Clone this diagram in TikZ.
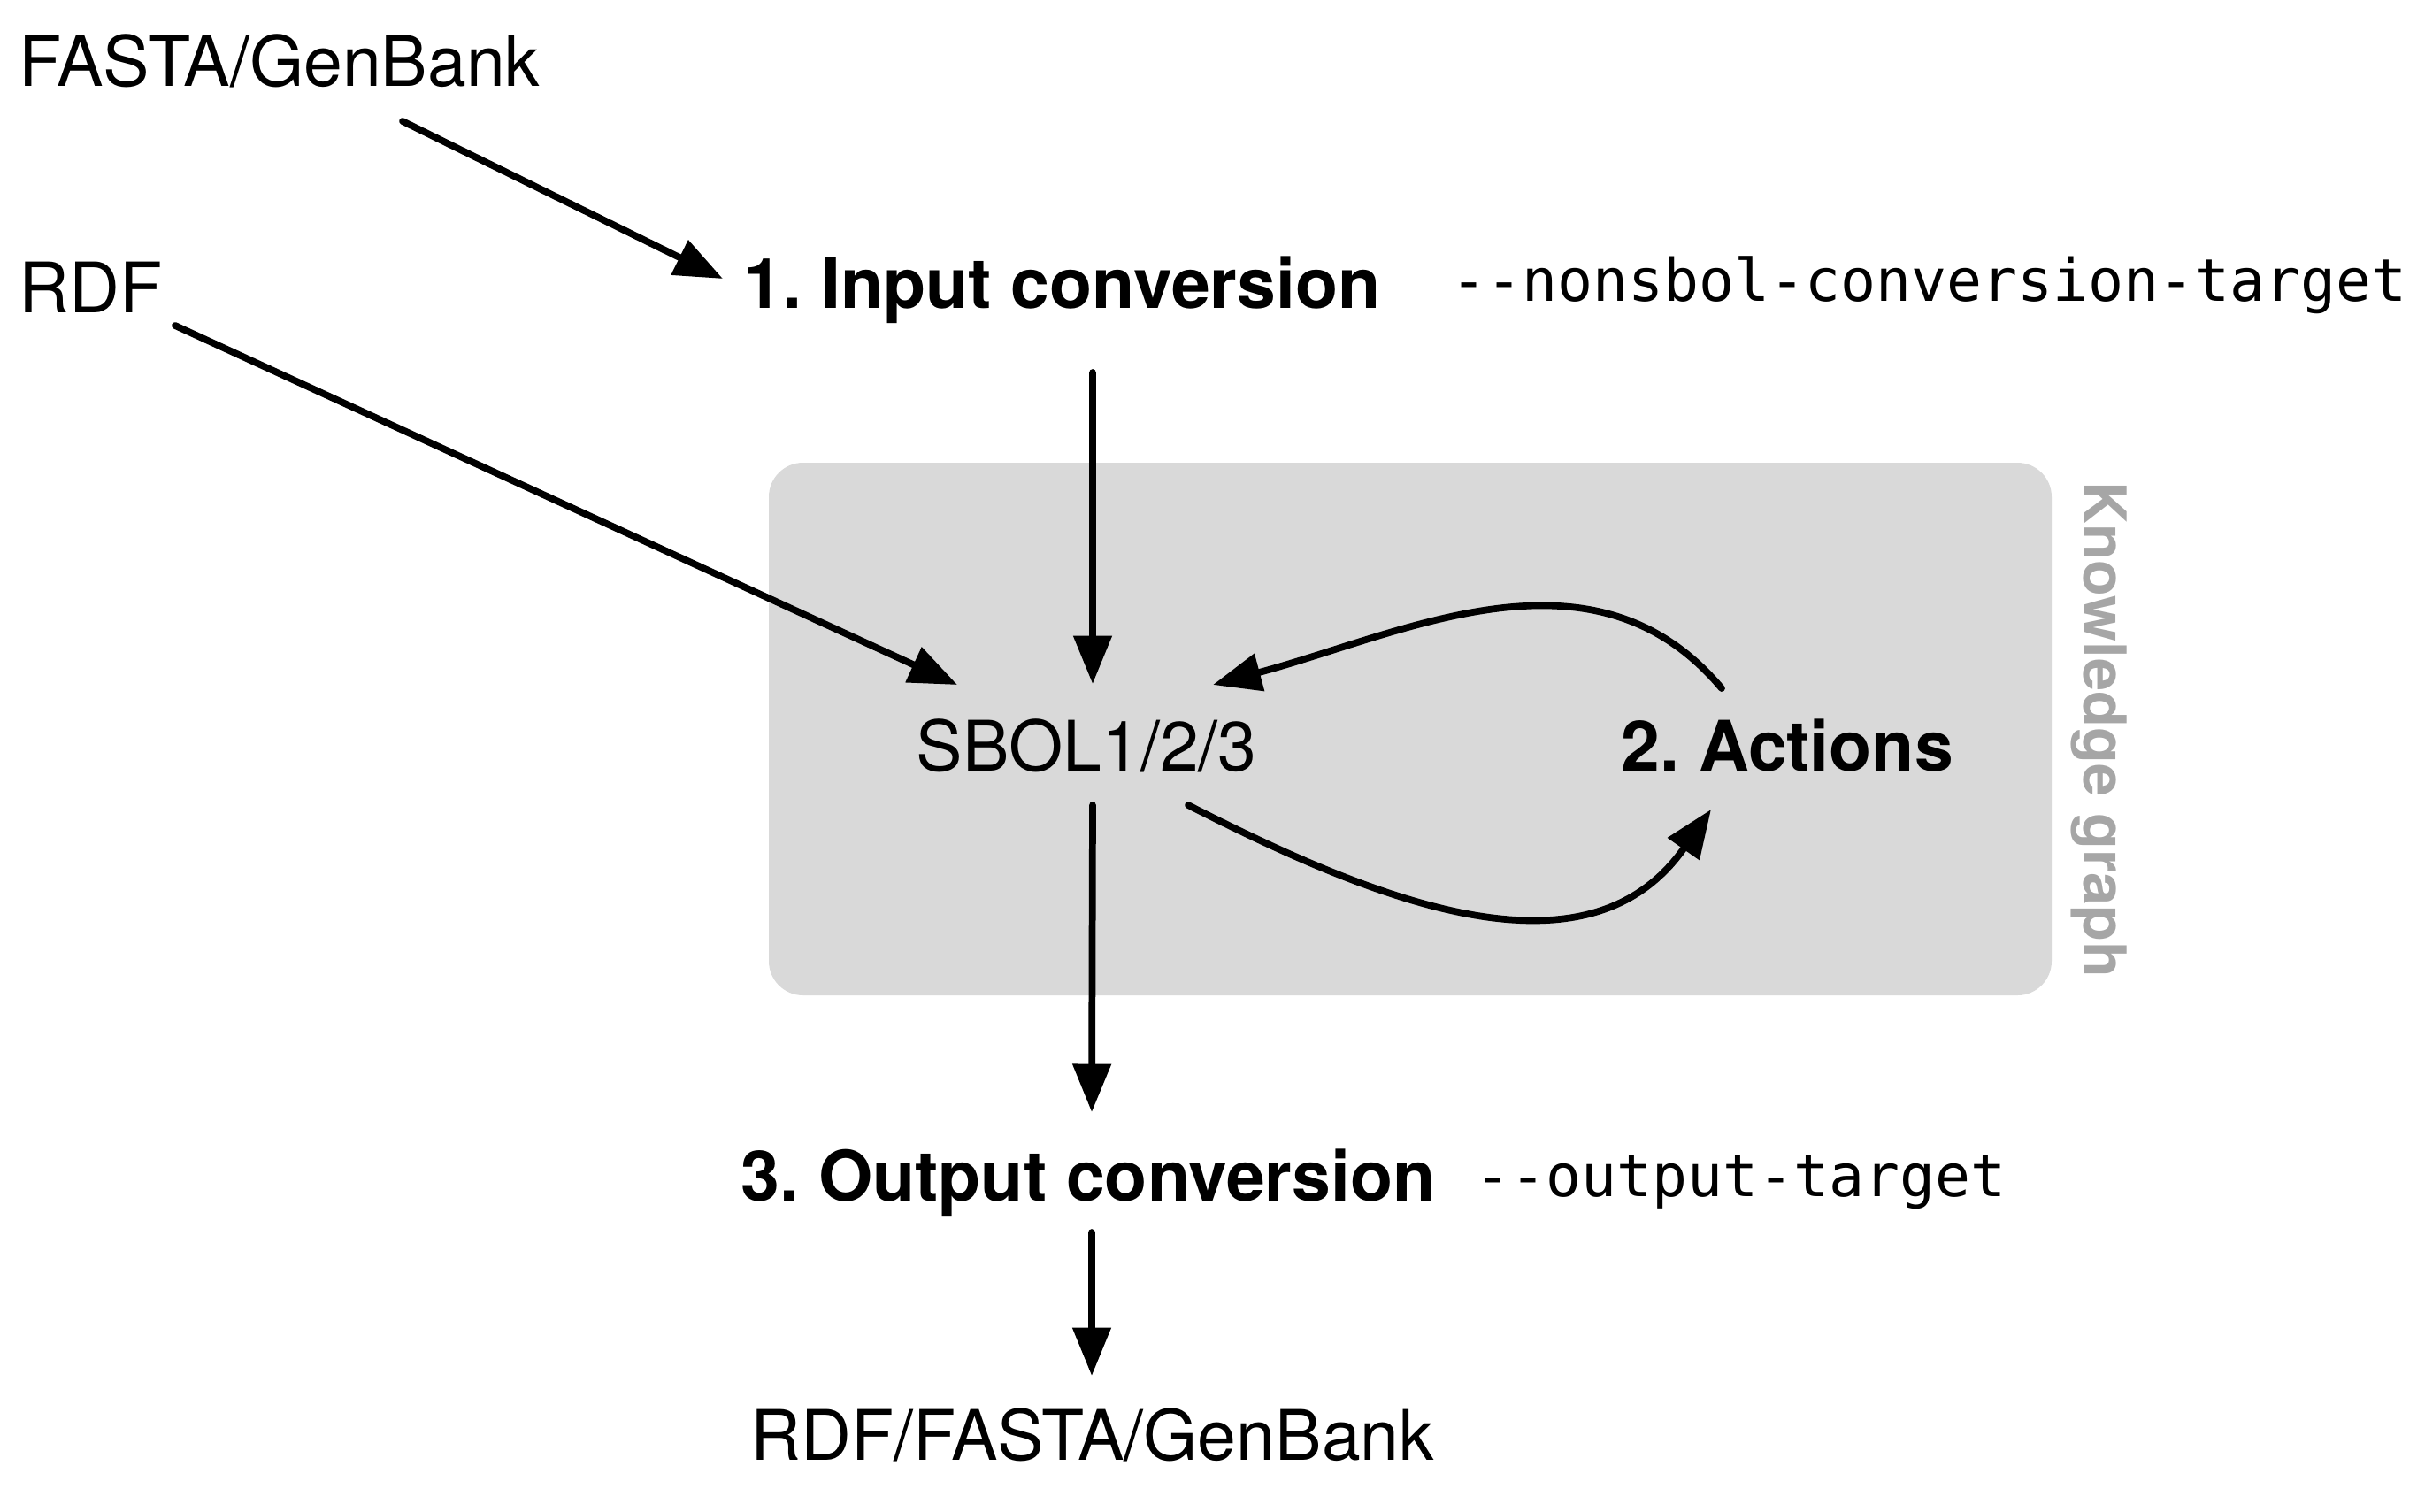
\documentclass[tikz,border=0pt]{standalone}
\usepackage{fontspec}
\setmainfont{TeX Gyre Heros}
\setmonofont{DejaVu Sans Mono}
\usetikzlibrary{arrows.meta}
\definecolor{kgfill}{HTML}{D9D9D9}
\definecolor{kgtext}{HTML}{A6A6A6}
\frenchspacing

\begin{document}
\begin{tikzpicture}[scale=1.0,
        fmt/.style={inner sep=0pt, anchor=base west, font=\fontsize{22.4}{26}\selectfont},
        stage/.style={fmt, font=\fontsize{22.4}{26}\selectfont\bfseries},
        flag/.style={inner sep=0pt, anchor=base west, font=\fontsize{18.9}{22}\selectfont\ttfamily},
        flow/.style={-{Triangle[length=15.5pt,width=12pt]}, line width=2.2pt, line cap=round}]
                \useasboundingbox (0,0) rectangle (27.41,-17.08);

                \node[fill=kgfill, rounded corners=11pt, minimum width=14.5cm, minimum height=6.02cm, inner sep=0pt] (kgbox) at (15.94,-8.24) {};
                \node[rotate=-90, anchor=base, inner sep=0pt, text=kgtext, font=\fontsize{19}{23}\selectfont\bfseries] (kglabel) at (23.55,-8.25) {Knowledge graph};

                \node[fmt] (fasta) at (0.21,-0.97) {FASTA/GenBank};
                \node[fmt] (rdf) at (0.21,-3.53) {RDF};
                \node[stage] (input) at (8.40,-3.48) {1. Input conversion};
                \node[flag] (inflag) at (16.40,-3.40) {--nonsbol-conversion-target};
                \node[fmt] (sbol) at (10.35,-8.71) {SBOL1/2/3};
                \node[stage] (actions) at (18.32,-8.71) {2. Actions};
                \node[stage] (output) at (8.37,-13.57) {3. Output conversion};
                \node[flag] (outflag) at (16.67,-13.52) {--output-target};
                \node[fmt] (rdfout) at (8.48,-16.50) {RDF/FASTA/GenBank};

                \draw[flow] ([shift={(4.34,-0.40)}]fasta.base west) -- ([shift={(-0.23,0.33)}]input.base west);
                \draw[flow] ([shift={(1.77,-0.15)}]rdf.base west) -- ([shift={(0.47,0.97)}]sbol.base west);
                \draw[flow] ([shift={(3.95,-0.73)}]input.base west) -- ([shift={(2.00,0.98)}]sbol.base west);

                \draw[flow] ([shift={(1.14,0.93)}]actions.base west) to[out=130,in=15] ([shift={(3.36,0.97)}]sbol.base west);
                \draw[flow] ([shift={(3.08,-0.39)}]sbol.base west) to[out=-27,in=-125,looseness=1.05] ([shift={(1.02,-0.44)}]actions.base west);

                \draw[flow] ([shift={(2.00,-0.39)}]sbol.base west) -- ([shift={(3.97,1.00)}]output.base west);
                \draw[flow] ([shift={(3.97,-0.36)}]output.base west) -- ([shift={(3.86,0.95)}]rdfout.base west);
\end{tikzpicture}
\end{document}
